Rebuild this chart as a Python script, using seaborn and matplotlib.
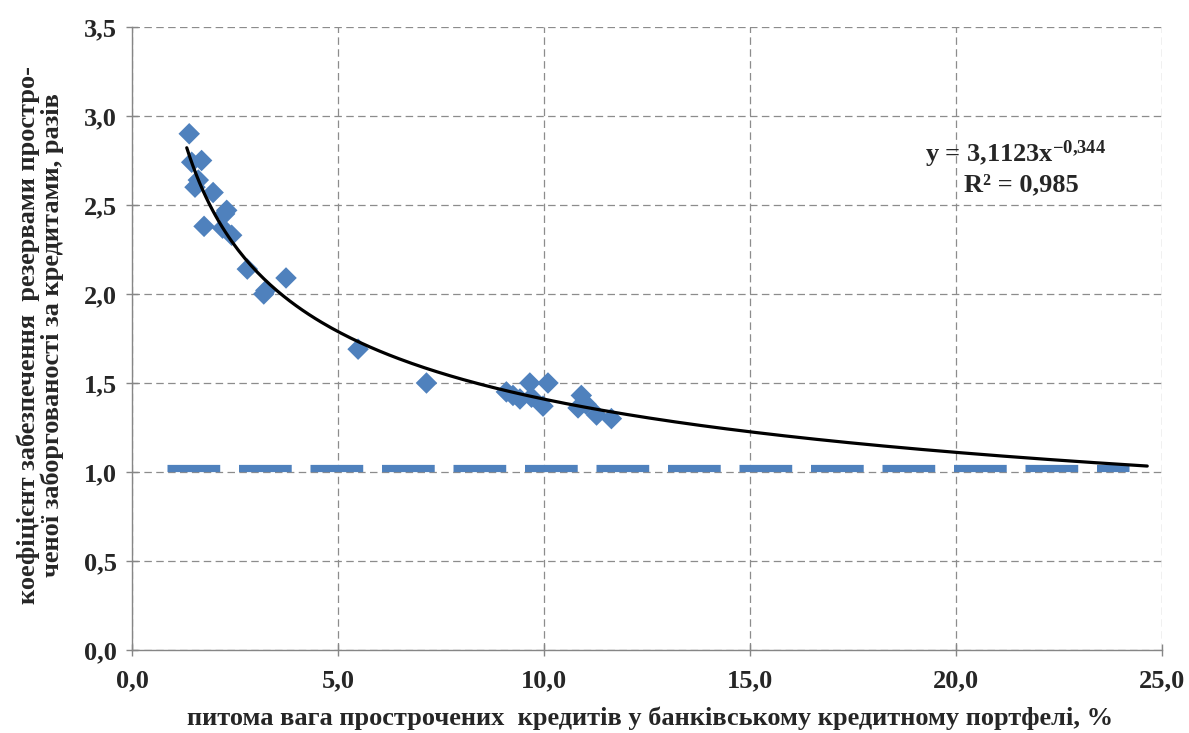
import numpy as np
import pandas as pd
import matplotlib
matplotlib.use("Agg")
import matplotlib.pyplot as plt
import seaborn as sns
from matplotlib.ticker import FuncFormatter

# ---- data ----
share_overdue = [1.39, 1.45, 1.69, 1.61, 1.53, 1.97, 2.30, 2.25, 1.75, 2.20, 2.42,
                 2.80, 3.25, 3.20, 3.74,
                 5.49, 7.15, 9.09, 9.25, 9.42, 9.66, 9.70, 10.10, 9.98,
                 10.91, 10.83, 11.03, 11.28, 11.64]
coverage = [2.90, 2.74, 2.75, 2.64, 2.60, 2.57, 2.47, 2.45, 2.38, 2.37, 2.33,
            2.14, 2.02, 2.00, 2.09,
            1.69, 1.50, 1.45, 1.43, 1.41, 1.50, 1.42, 1.50, 1.37,
            1.43, 1.36, 1.38, 1.32, 1.30]
trend_a = 3.1123
trend_b = -0.344
trend_x_range = [1.33, 24.65]
threshold_y = 1.025
threshold_x_range = [0.85, 24.2]

x_ticks = [0, 5, 10, 15, 20, 25]
y_ticks = [0, 0.5, 1.0, 1.5, 2.0, 2.5, 3.0, 3.5]
x_label = "питома вага прострочених  кредитів у банківському кредитному портфелі, %"
y_label = "коефіцієнт забезпечення  резервами простро-\nченої заборгованості за кредитами, разів"
eq_text = "y = 3,1123x$^{\\mathregular{-0{,}344}}$"
r2_text = "R² = 0,985"

sns.set_theme(style="white")
plt.rcParams['font.family'] = ['Liberation Serif', 'DejaVu Serif']
plt.rcParams['mathtext.fontset'] = 'custom'
plt.rcParams['mathtext.rm'] = 'Liberation Serif:bold'
plt.rcParams['mathtext.default'] = 'rm'

fig = plt.figure(figsize=(11.89, 7.33), dpi=100)
ax = fig.add_axes([0.111, 0.1132, 0.866, 0.85])

df = pd.DataFrame({"x": share_overdue, "y": coverage})

# threshold dashed line
tdf = pd.DataFrame({"x": threshold_x_range, "y": [threshold_y, threshold_y]})
sns.lineplot(data=tdf, x="x", y="y", ax=ax, color="#4F81BD", linewidth=5.2, zorder=3)
ax.lines[-1].set_dashes([7.3, 2.6])
ax.lines[-1].set_dash_capstyle('butt')

# trend line from the stated power equation
tx = np.linspace(trend_x_range[0], trend_x_range[1], 300)
trdf = pd.DataFrame({"x": tx, "y": trend_a * tx ** trend_b})
sns.lineplot(data=trdf, x="x", y="y", ax=ax, color="black", linewidth=2.3, zorder=5)

sns.scatterplot(data=df, x="x", y="y", ax=ax, marker="D", s=120, color="#4F81BD",
                edgecolor="none", linewidth=0, zorder=4)

ax.set_xlim(0, 25)
ax.set_ylim(0, 3.5)
ax.set_xticks(x_ticks)
ax.set_yticks(y_ticks)
fmt = FuncFormatter(lambda v, p: f"{v:.1f}".replace(".", ","))
ax.xaxis.set_major_formatter(fmt)
ax.yaxis.set_major_formatter(fmt)

ax.grid(True, color="#8C8C8C", linestyle=(0, (6, 3.5)), linewidth=0.9)
ax.set_axisbelow(True)
for s in ["top", "right"]:
    ax.spines[s].set_visible(False)
for s in ["left", "bottom"]:
    ax.spines[s].set_color("#868686")
    ax.spines[s].set_linewidth(1.0)
ax.tick_params(axis="both", which="major", direction="inout", length=8, width=1,
               color="#868686", labelsize=19, left=True, bottom=True)
ax.tick_params(axis="y", pad=7)
ax.tick_params(axis="x", pad=10)
for lab in ax.get_xticklabels() + ax.get_yticklabels():
    lab.set_fontweight("bold")

ax.set_xlabel(x_label, fontsize=19, fontweight="bold", va="center")
ax.set_ylabel(y_label, fontsize=19, fontweight="bold", linespacing=1.05, va="center")
ax.xaxis.set_label_coords(0.503, -0.109)
ax.yaxis.set_label_coords(-0.0893, 0.506)

ax.text(0.858, 0.795, eq_text, transform=ax.transAxes, fontsize=19, fontweight="bold",
        ha="center", va="center")
ax.text(0.864, 0.746, r2_text, transform=ax.transAxes, fontsize=19, fontweight="bold",
        ha="center", va="center")

fig.savefig("out.png", dpi=100)
